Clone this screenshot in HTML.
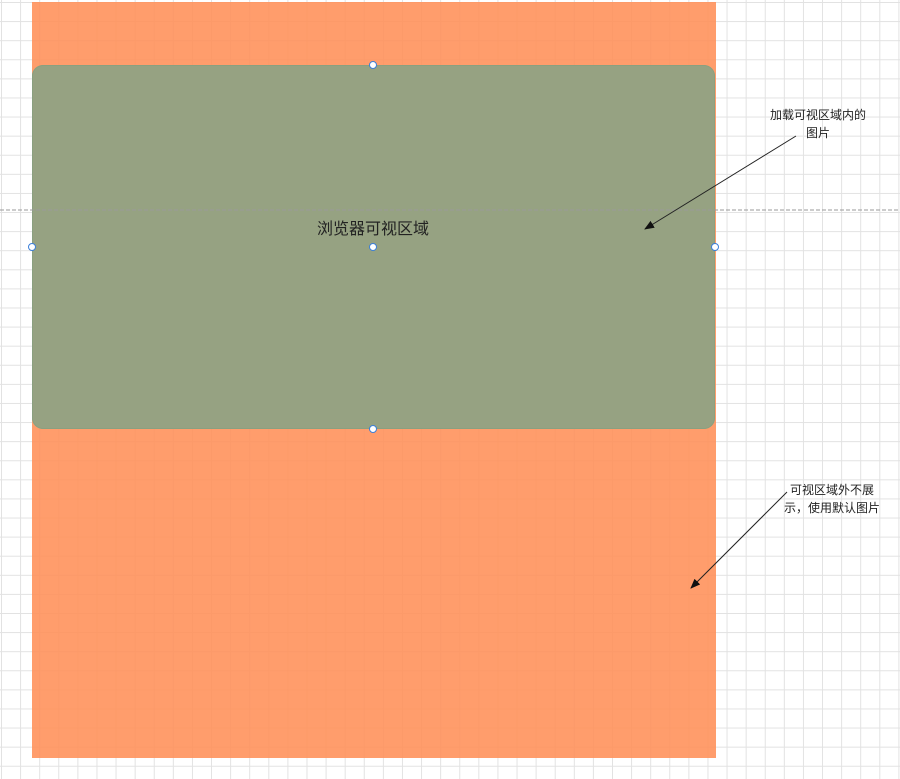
<!DOCTYPE html>
<html><head><meta charset="utf-8"><style>
html,body{margin:0;padding:0;}
body{width:900px;height:779px;position:relative;overflow:hidden;background:#fff;
background-image:linear-gradient(to right,#e2e2e2 1px,transparent 1px),linear-gradient(to bottom,#e2e2e2 1px,transparent 1px);
background-size:19.1px 19.1px;background-position:1px 2px;font-family:"Liberation Sans","Noto Sans CJK SC",sans-serif;}
.t{position:absolute;color:#222;font-size:12px;text-align:center;line-height:18px;}
</style></head><body>
<div style="position:absolute;left:32px;top:2px;width:684px;height:756px;background:#ff8f58;opacity:.88"></div>
<div style="position:absolute;left:32px;top:65px;width:683px;height:364px;background:#96a282;border-radius:11px;box-shadow:0 0 0 1px #8aa080 inset"></div>
<svg width="900" height="779" style="position:absolute;left:0;top:0">
<defs><marker id="a" markerWidth="10" markerHeight="8" refX="9" refY="4" orient="auto"><path d="M0,0 L10,4 L0,8 z" fill="#111"/></marker></defs>
<line x1="0" y1="210" x2="900" y2="210" stroke="#999" stroke-dasharray="4,2"/>
<line x1="796" y1="136" x2="645" y2="229" stroke="#222" marker-end="url(#a)"/>
<line x1="787" y1="492" x2="691" y2="588" stroke="#222" marker-end="url(#a)"/>
<g fill="#fff" stroke="#3b7fd9" stroke-width="1">
<circle cx="373" cy="65" r="3.5"/><circle cx="32" cy="247" r="3.5"/><circle cx="373" cy="247" r="3.5"/><circle cx="715" cy="247" r="3.5"/><circle cx="373" cy="429" r="3.5"/></g>
</svg>
<div class="t" style="left:273px;top:220px;width:200px;font-size:16px;line-height:20px;color:#222">浏览器可视区域</div>
<div class="t" style="left:758px;top:106px;width:120px">加载可视区域内的<br>图片</div>
<div class="t" style="left:772px;top:481px;width:120px">可视区域外不展<br>示，使用默认图片</div>
</body></html>
